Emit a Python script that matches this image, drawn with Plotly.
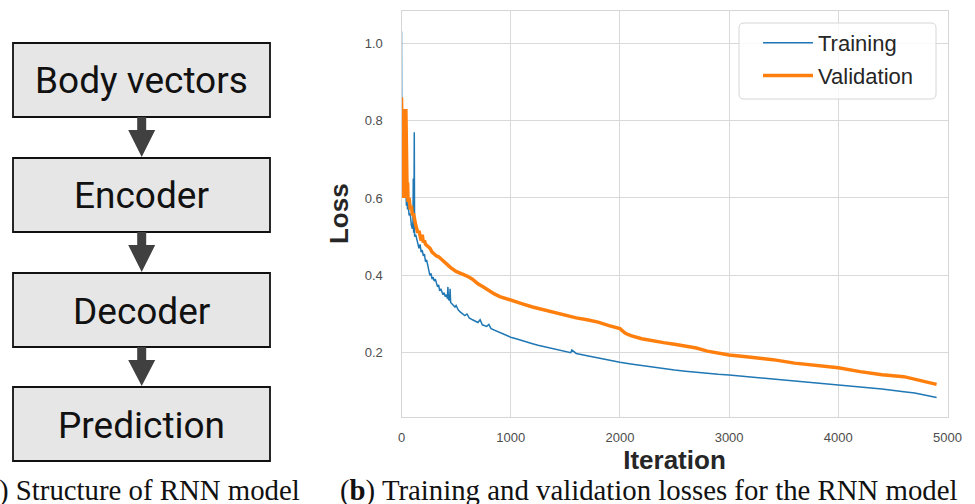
import plotly.graph_objects as go

W, H = 975, 504

# ---------------- data ----------------
train_iter = [0, 3, 6, 10, 14, 18, 22, 26, 30, 35, 40, 45, 50, 55, 60, 70, 80, 90, 100, 105,
              108, 111, 114, 117, 120, 130, 140, 150, 160, 170, 180, 190, 200, 210, 220, 230,
              240, 250, 260, 270, 280, 290, 300, 310, 320, 330, 340, 350, 360, 370, 380, 390,
              400, 410, 420, 425, 430, 440, 445, 450, 470, 490, 500, 520, 540, 560, 580, 600,
              620, 650, 680, 700, 720, 740, 780, 800, 820, 860, 900, 940, 980, 1000, 1050,
              1100, 1150, 1200, 1250, 1300, 1350, 1400, 1450, 1500, 1550, 1560, 1600, 1700,
              1800, 1900, 2000, 2100, 2200, 2300, 2400, 2500, 2600, 2700, 2800, 2900, 3000,
              3200, 3400, 3600, 3800, 4000, 4200, 4400, 4600, 4700, 4800, 4900]
train_loss = [1.03, 0.70, 0.85, 0.72, 0.80, 0.66, 0.73, 0.63, 0.68, 0.60, 0.63, 0.58, 0.60, 0.57,
              0.585, 0.555, 0.56, 0.53, 0.52, 0.54, 0.65, 0.51, 0.55, 0.77, 0.50, 0.505, 0.49,
              0.485, 0.47, 0.48, 0.46, 0.465, 0.45, 0.455, 0.435, 0.44, 0.425, 0.42, 0.40,
              0.405, 0.39, 0.395, 0.385, 0.39, 0.375, 0.37, 0.375, 0.36, 0.365, 0.355, 0.35,
              0.355, 0.345, 0.35, 0.34, 0.37, 0.338, 0.335, 0.365, 0.33, 0.325, 0.318, 0.322,
              0.31, 0.305, 0.30, 0.296, 0.30, 0.29, 0.285, 0.282, 0.278, 0.285, 0.272, 0.268,
              0.273, 0.262, 0.257, 0.252, 0.246, 0.242, 0.240, 0.236, 0.231, 0.227, 0.223,
              0.219, 0.216, 0.213, 0.209, 0.206, 0.203, 0.200, 0.207, 0.198, 0.192, 0.186,
              0.180, 0.175, 0.171, 0.167, 0.162, 0.158, 0.155, 0.152, 0.149, 0.146, 0.144,
              0.142, 0.137, 0.132, 0.127, 0.121, 0.116, 0.111, 0.106, 0.099, 0.096, 0.090,
              0.084]

val_iter = [0, 4, 8, 12, 16, 20, 24, 28, 32, 36, 40, 44, 48, 52, 56, 60, 70, 80, 90, 100, 110,
            120, 130, 140, 150, 160, 170, 180, 190, 200, 210, 220, 240, 260, 280, 300, 320, 340,
            370, 400, 450, 500, 550, 600, 650, 700, 750, 800, 850, 900, 950, 1000, 1100, 1200,
            1300, 1400, 1500, 1600, 1700, 1800, 1900, 1950, 2000, 2050, 2100, 2200, 2300, 2400,
            2500, 2600, 2700, 2800, 2900, 3000, 3200, 3400, 3600, 3800, 4000, 4200, 4400, 4600,
            4650, 4750, 4850, 4900]
val_loss = [0.86, 0.63, 0.85, 0.62, 0.80, 0.60, 0.72, 0.61, 0.83, 0.63, 0.83, 0.62, 0.82, 0.60,
            0.64, 0.59, 0.60, 0.57, 0.58, 0.555, 0.56, 0.54, 0.53, 0.52, 0.51, 0.515, 0.50, 0.49,
            0.505, 0.485, 0.49, 0.48, 0.475, 0.47, 0.46, 0.455, 0.45, 0.448, 0.44, 0.432, 0.42,
            0.41, 0.405, 0.398, 0.39, 0.378, 0.37, 0.36, 0.352, 0.345, 0.34, 0.336, 0.327, 0.318,
            0.311, 0.302, 0.296, 0.290, 0.285, 0.279, 0.270, 0.266, 0.262, 0.250, 0.244, 0.236,
            0.230, 0.226, 0.222, 0.217, 0.212, 0.204, 0.198, 0.194, 0.188, 0.182, 0.173, 0.167,
            0.161, 0.151, 0.143, 0.138, 0.135, 0.128, 0.121, 0.118]

x_ticks = [0, 1000, 2000, 3000, 4000, 5000]
y_ticks = [0.2, 0.4, 0.6, 0.8, 1.0]
y_tick_text = ["0.2", "0.4", "0.6", "0.8", "1.0"]

flow_steps = ["Body vectors", "Encoder", "Decoder", "Prediction"]

caption_a = "(<b>a</b>) Structure of RNN model"
caption_b = "(<b>b</b>) Training and validation losses for the RNN model"


def px(x):
    return x / W


def py(y):
    return 1 - y / H


fig = go.Figure()
fig.add_trace(go.Scatter(x=train_iter, y=train_loss, mode="lines", name="Training",
                         legendgroup="t", line=dict(color="#1f77b4", width=1.5)))
fig.add_trace(go.Scatter(x=val_iter, y=val_loss, mode="lines", name="Validation",
                         legendgroup="v", line=dict(color="#ff7f0e", width=3.5)))

shapes = []
annotations = []

# flowchart
box_x0, box_x1 = 13, 270
box_tops = [43, 158, 273, 387]
box_h = 74
cx = 141.7
for i, (label, top) in enumerate(zip(flow_steps, box_tops)):
    shapes.append(dict(type="rect", xref="paper", yref="paper",
                       x0=px(box_x0), x1=px(box_x1), y0=py(top + box_h), y1=py(top),
                       fillcolor="#e6e6e6", line=dict(color="#111111", width=1.8), layer="above"))
    annotations.append(dict(x=px(cx), y=py(top + box_h / 2 + 1), xref="paper", yref="paper",
                            text=label, showarrow=False, xanchor="center", yanchor="middle",
                            font=dict(family="Roboto", size=37, color="#111111")))
    if i < len(flow_steps) - 1:
        s_top = top + box_h
        s_bot = s_top + 13
        h_bot = box_tops[i + 1] - 1
        path = (f"M{px(cx-4.5)},{py(s_top)} L{px(cx+4.5)},{py(s_top)} L{px(cx+4.5)},{py(s_bot)} "
                f"L{px(cx+13.5)},{py(s_bot)} L{px(cx)},{py(h_bot)} L{px(cx-13.5)},{py(s_bot)} "
                f"L{px(cx-4.5)},{py(s_bot)} Z")
        shapes.append(dict(type="path", xref="paper", yref="paper", path=path,
                           fillcolor="#404040", line=dict(width=0), layer="above"))

# legend background (rounded)
lx0, lx1, ly0, ly1, r = 739, 936, 23, 99, 5
lpath = (f"M{px(lx0+r)},{py(ly0)} L{px(lx1-r)},{py(ly0)} Q{px(lx1)},{py(ly0)} {px(lx1)},{py(ly0+r)} "
         f"L{px(lx1)},{py(ly1-r)} Q{px(lx1)},{py(ly1)} {px(lx1-r)},{py(ly1)} "
         f"L{px(lx0+r)},{py(ly1)} Q{px(lx0)},{py(ly1)} {px(lx0)},{py(ly1-r)} "
         f"L{px(lx0)},{py(ly0+r)} Q{px(lx0)},{py(ly0)} {px(lx0+r)},{py(ly0)} Z")
shapes.append(dict(type="path", xref="paper", yref="paper", path=lpath,
                   fillcolor="rgba(255,255,255,0.8)", line=dict(color="#d6d6d6", width=1),
                   layer="above"))

annotations.append(dict(x=px(302), y=py(490), xref="paper", yref="paper", text=caption_a,
                        showarrow=False, xanchor="right", yanchor="middle",
                        font=dict(family="Liberation Serif", size=28.8, color="#111111")))
annotations.append(dict(x=px(648.5), y=py(490), xref="paper", yref="paper", text=caption_b,
                        showarrow=False, xanchor="center", yanchor="middle",
                        font=dict(family="Liberation Serif", size=28.8, color="#111111")))

axis_common = dict(showgrid=True, gridcolor="#d9d9d9", gridwidth=1, showline=True,
                   linecolor="#d6d6d6", linewidth=1.2, mirror=True, zeroline=False,
                   ticks="", automargin=False,
                   tickfont=dict(family="Liberation Sans", size=13, color="#4d4d4d"))

fig.update_layout(
    width=W, height=H,
    margin=dict(l=0, r=0, t=0, b=0),
    paper_bgcolor="white", plot_bgcolor="white",
    xaxis=dict(domain=[px(401.5), px(947.5)], range=[0, 5000], tickvals=x_ticks,
               ticklabelstandoff=9,
               title=dict(text="<b>Iteration</b>", standoff=4,
                          font=dict(family="Liberation Sans", size=26, color="#262626")),
               **axis_common),
    yaxis=dict(domain=[py(416.7), py(10.7)], range=[0.0345, 1.084], tickvals=y_ticks,
               ticktext=y_tick_text, ticklabelstandoff=15,
               title=dict(text="<b>Loss</b>", standoff=8,
                          font=dict(family="Liberation Sans", size=26, color="#262626")),
               **axis_common),
    showlegend=True,
    legend=dict(x=px(758), y=py(22), xanchor="left", yanchor="top",
                bgcolor="rgba(0,0,0,0)", borderwidth=0, tracegroupgap=1,
                itemwidth=50,
                font=dict(family="Liberation Sans", size=22, color="#262626")),
    shapes=shapes,
    annotations=annotations,
)

fig.write_html("out.html", config={"displayModeBar": False},
               post_script="document.body.style.margin='0';document.body.style.overflow='hidden';")
